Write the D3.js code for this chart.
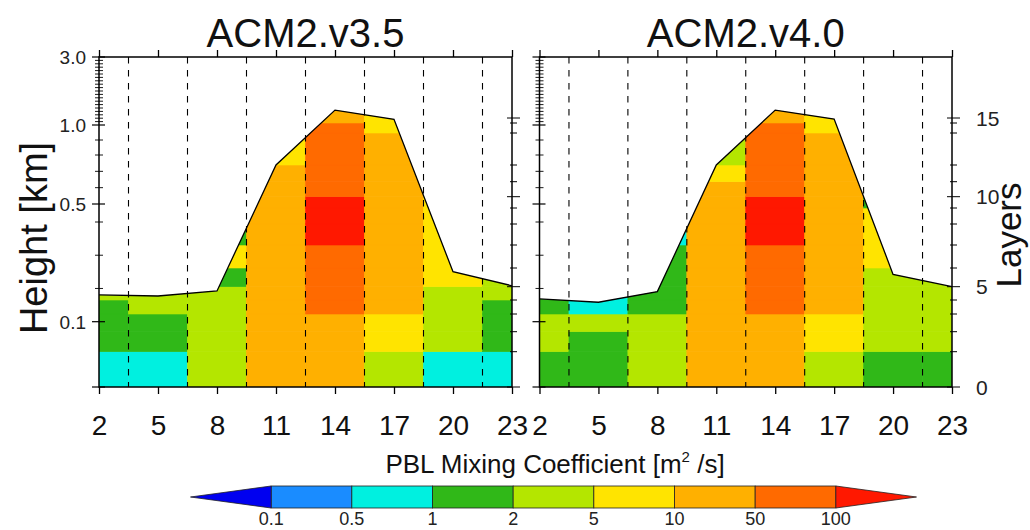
<!DOCTYPE html>
<html>
<head>
<meta charset="utf-8">
<script src="https://cdn.jsdelivr.net/npm/d3@7"></script>
<style>
  body { margin: 0; background: #fff; }
  svg { font-family: "Liberation Sans", Arial, Helvetica, sans-serif; }
</style>
</head>
<body>
<div id="chart"></div>
<script>
// Hours of the day (columns) and colour bins of the mixing coefficient.
const hours = [2, 5, 8, 11, 14, 17, 20, 23];
const cuts = [0.1, 0.5, 1, 2, 5, 10, 50, 100];
const binColors = ["#0000f0", "#1a8cff", "#00f0e0", "#30b818", "#b4e600",
  "#ffe400", "#ffb000", "#ff6a00", "#ff1800"];

// Kzz [m2/s] per hour, bottom layer first (layers above the PBL are left out).
const kzzV35 = [
  [0.8, 1.5, 1.5, 1.4, 2.5],
  [0.8, 1.5, 1.3, 2.5, 2.8],
  [3, 3.5, 3.5, 4, 4.5, 1.8, 7, 1.9],
  [20, 25, 30, 30, 30, 35, 35, 30, 30, 25, 20, 12, 7, 6],
  [20, 30, 40, 60, 70, 80, 90, 120, 150, 130, 90, 80, 70, 60, 40, 30],
  [3, 7, 8, 15, 20, 25, 30, 30, 25, 25, 20, 15, 12, 8, 6, 6],
  [0.8, 3, 4, 4, 4.5, 6, 7, 7, 6, 6],
  [0.8, 1.5, 1.6, 1.8, 2.5, 3]
];
const kzzV40 = [
  [1.5, 3, 3, 1.8, 1.6],
  [1.5, 1.4, 3, 0.8, 0.7],
  [3, 3, 3, 1.5, 1.6, 1.7, 1.8, 0.8],
  [20, 25, 30, 30, 30, 35, 35, 30, 25, 20, 15, 7, 4, 3],
  [20, 30, 40, 60, 70, 80, 90, 120, 150, 130, 90, 80, 70, 60, 40, 30],
  [3, 7, 8, 15, 20, 25, 30, 30, 25, 25, 20, 15, 12, 8, 6, 6],
  [1.5, 3, 3.5, 4, 4, 4, 7, 8, 7, 1.9],
  [1.5, 3, 3, 3.5, 3.5, 3]
];

// PBL top per hour, in model layers.
const pblV35 = [4.38, 4.30, 4.68, 12.0, 15.13, 14.74, 5.80, 5.05];
const pblV40 = [4.08, 3.84, 4.63, 12.0, 15.13, 14.8, 5.66, 5.0];

// Axis ticks.
const kmMajor = [0.1, 0.5, 1.0, 3.0];
const kmMinor = [0.2, 0.3, 0.4, 0.6, 0.7, 0.8, 0.9].concat(d3.range(11, 30).map(d => d / 10));
const layerTicks = d3.range(0, 16);
const layerLabels = [0, 5, 10, 15];

const width = 1030, height = 530;
const plotTop = 57, plotBottom = 387;

const svg = d3.select("#chart").append("svg")
  .attr("width", width)
  .attr("height", height);

svg.append("rect").attr("width", width).attr("height", height).attr("fill", "#fff");

// The vertical axis is irregular: model layer interfaces are not evenly spaced.
const yLayer = d3.scaleLinear()
  .domain(d3.range(0, 17))
  .range([plotBottom, 351.7, 331.7, 314, 300, 286.7, 268, 245, 224, 208, 196.7,
    181.7, 165, 133, 123, 118, plotTop]);
const yKm = d3.scaleLinear()
  .domain([0, 0.1, 0.4, 0.5, 0.8, 1.0, 3.0])
  .range([plotBottom, 321.7, 222, 204, 155, 125, plotTop]);

const color = d3.scaleThreshold().domain(cuts).range(binColors);

const panels = [
  { title: "ACM2.v3.5", x0: 99, x1: 512, kzz: kzzV35, pbl: pblV35, left: true },
  { title: "ACM2.v4.0", x0: 539.5, x1: 952, kzz: kzzV40, pbl: pblV40, left: false }
];

panels.forEach(function (p, pi) {
  const x = d3.scaleLinear().domain([2, 23]).range([p.x0, p.x1]);
  const g = svg.append("g");

  // Clip the layer cells to the area under the PBL top.
  const area = d3.area()
    .x((d, i) => x(hours[i]))
    .y0(yLayer(0))
    .y1(d => yLayer(d));
  svg.append("clipPath").attr("id", "pbl" + pi)
    .append("path").attr("d", area(p.pbl));

  const cells = [];
  p.kzz.forEach(function (col, c) {
    col.forEach(function (v, k) {
      cells.push({
        h0: Math.max(2, hours[c] - 1.5),
        h1: Math.min(23, hours[c] + 1.5),
        k: k,
        v: v
      });
    });
  });

  g.append("g").attr("clip-path", "url(#pbl" + pi + ")")
    .selectAll("rect")
    .data(cells)
    .enter()
    .append("rect")
    .attr("x", d => x(d.h0))
    .attr("width", d => x(d.h1) - x(d.h0))
    .attr("y", d => yLayer(d.k + 1))
    .attr("height", d => yLayer(d.k) - yLayer(d.k + 1))
    .attr("fill", d => color(d.v))
    .attr("stroke", d => color(d.v))
    .attr("stroke-width", 0.6);

  // PBL top line.
  const line = d3.line().x((d, i) => x(hours[i])).y(d => yLayer(d));
  g.append("path")
    .attr("d", line(p.pbl))
    .attr("fill", "none")
    .attr("stroke", "#000")
    .attr("stroke-width", 1.3);

  // Dashed separators between the 3-hourly columns.
  g.selectAll("line.sep")
    .data(hours.slice(1).map(h => h - 1.5))
    .enter()
    .append("line")
    .attr("x1", d => x(d)).attr("x2", d => x(d))
    .attr("y1", plotTop).attr("y2", plotBottom)
    .attr("stroke", "#000")
    .attr("stroke-width", 1.1)
    .attr("stroke-dasharray", "6.5,6.5");

  // Frame.
  g.append("rect")
    .attr("x", p.x0).attr("y", plotTop)
    .attr("width", p.x1 - p.x0).attr("height", plotBottom - plotTop)
    .attr("fill", "none").attr("stroke", "#000").attr("stroke-width", 1.5);

  // Bottom and top axes.
  const xb = g.append("g")
    .attr("transform", `translate(0,${plotBottom})`)
    .call(d3.axisBottom(x).tickValues(hours).tickSize(7).tickPadding(21));
  xb.select(".domain").remove();
  xb.selectAll("line").attr("stroke-width", 1.3);
  xb.selectAll("text").attr("font-size", 28).attr("fill", "#111");

  const xt = g.append("g")
    .attr("transform", `translate(0,${plotTop})`)
    .call(d3.axisTop(x).tickValues(hours).tickSize(7).tickFormat(""));
  xt.select(".domain").remove();
  xt.selectAll("line").attr("stroke-width", 1.3);

  // Height ticks (left side), crossing the frame.
  g.selectAll("line.kmMaj")
    .data(kmMajor.concat([0]))
    .enter()
    .append("line")
    .attr("x1", p.x0 - 7).attr("x2", p.x0 + 6)
    .attr("y1", d => yKm(d)).attr("y2", d => yKm(d))
    .attr("stroke", "#000").attr("stroke-width", 1.2);
  g.selectAll("line.kmMin")
    .data(kmMinor)
    .enter()
    .append("line")
    .attr("x1", p.x0 - 4).attr("x2", p.x0 + 4)
    .attr("y1", d => yKm(d)).attr("y2", d => yKm(d))
    .attr("stroke", "#000").attr("stroke-width", 0.9);

  // Layer ticks (right side).
  g.selectAll("line.lay")
    .data(layerTicks)
    .enter()
    .append("line")
    .attr("x1", d => p.x1 - (d % 5 === 0 ? 5 : 2))
    .attr("x2", d => p.x1 + (d % 5 === 0 ? 8 : 5))
    .attr("y1", d => yLayer(d)).attr("y2", d => yLayer(d))
    .attr("stroke", "#000").attr("stroke-width", 1);

  if (p.left) {
    g.selectAll("text.km")
      .data(kmMajor)
      .enter()
      .append("text")
      .attr("x", p.x0 - 13)
      .attr("y", d => yKm(d))
      .attr("dy", "0.36em")
      .attr("text-anchor", "end")
      .attr("font-size", 19)
      .attr("fill", "#222")
      .text(d3.format(".1f"));
  } else {
    g.selectAll("text.lay")
      .data(layerLabels)
      .enter()
      .append("text")
      .attr("x", p.x1 + 24)
      .attr("y", d => yLayer(d))
      .attr("dy", "0.36em")
      .attr("font-size", 21)
      .attr("fill", "#222")
      .text(d => d);
  }

  g.append("text")
    .attr("x", (p.x0 + p.x1) / 2)
    .attr("y", 47)
    .attr("text-anchor", "middle")
    .attr("font-size", 40)
    .attr("fill", "#111")
    .text(p.title);
});

// Axis titles.
svg.append("text")
  .attr("transform", "translate(47,238) rotate(-90)")
  .attr("text-anchor", "middle")
  .attr("font-size", 38)
  .attr("fill", "#111")
  .text("Height [km]");
svg.append("text")
  .attr("transform", "translate(1021,235) rotate(-90)")
  .attr("text-anchor", "middle")
  .attr("font-size", 35)
  .attr("fill", "#111")
  .text("Layers");

// Colour bar.
const cbTitle = svg.append("text")
  .attr("x", 555).attr("y", 473)
  .attr("text-anchor", "middle")
  .attr("font-size", 26)
  .attr("fill", "#111");
cbTitle.append("tspan").text("PBL Mixing Coefficient [m");
cbTitle.append("tspan").attr("font-size", 15).attr("dy", -11).text("2");
cbTitle.append("tspan").attr("dy", 11).text(" /s]");

const cbX = d3.scaleLinear().domain([-1, cuts.length]).range([190.5, 916.5]);
const cbTop = 486, cbBot = 508, cbMid = (cbTop + cbBot) / 2;
const cb = svg.append("g");

cb.selectAll("rect")
  .data(d3.range(0, cuts.length - 1))
  .enter()
  .append("rect")
  .attr("x", i => cbX(i))
  .attr("y", cbTop)
  .attr("width", i => cbX(i + 1) - cbX(i))
  .attr("height", cbBot - cbTop)
  .attr("fill", i => binColors[i + 1])
  .attr("stroke", "#222")
  .attr("stroke-width", 0.8);

cb.append("path")
  .attr("d", `M${cbX(0)},${cbTop}L${cbX(-1)},${cbMid}L${cbX(0)},${cbBot}Z`)
  .attr("fill", binColors[0]).attr("stroke", "#222").attr("stroke-width", 0.8);
cb.append("path")
  .attr("d", `M${cbX(cuts.length - 1)},${cbTop}L${cbX(cuts.length)},${cbMid}L${cbX(cuts.length - 1)},${cbBot}Z`)
  .attr("fill", binColors[cuts.length]).attr("stroke", "#222").attr("stroke-width", 0.8);

cb.selectAll("text")
  .data(cuts)
  .enter()
  .append("text")
  .attr("x", (d, i) => cbX(i))
  .attr("y", 525)
  .attr("text-anchor", "middle")
  .attr("font-size", 18)
  .attr("fill", "#222")
  .text(d => d);
</script>
</body>
</html>
